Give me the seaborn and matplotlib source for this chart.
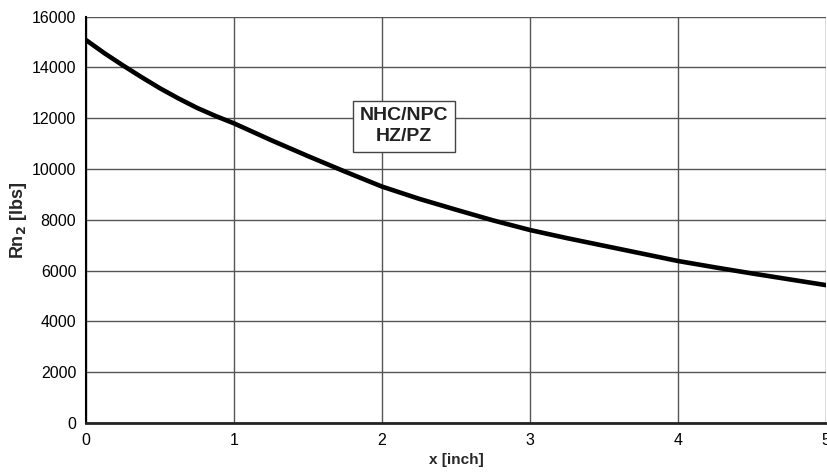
import numpy as np
import pandas as pd
import matplotlib
matplotlib.use("Agg")
import matplotlib.pyplot as plt
import seaborn as sns

# values
x_inch = [0, 0.125, 0.25, 0.375, 0.5, 0.625, 0.75, 0.875, 1.0, 1.25, 1.5, 1.75, 2.0,
          2.25, 2.5, 2.75, 3.0, 3.25, 3.5, 3.75, 4.0, 4.25, 4.5, 4.75, 5.0]
rn2_lbs = [15080, 14560, 14080, 13620, 13180, 12780, 12410, 12090, 11800, 11140, 10510, 9900, 9310,
           8830, 8400, 7980, 7600, 7280, 6980, 6680, 6380, 6130, 5890, 5660, 5430]
x_ticks = [0, 1, 2, 3, 4, 5]
y_ticks = [0, 2000, 4000, 6000, 8000, 10000, 12000, 14000, 16000]
label_text = "NHC/NPC\nHZ/PZ"

sns.set_style("white")
plt.rcParams['font.family'] = ['Liberation Sans', 'DejaVu Sans']

df = pd.DataFrame({"x": x_inch, "rn2": rn2_lbs})

fig = plt.figure(figsize=(8.28, 4.76), dpi=100)
ax = fig.add_axes([0.1039, 0.1113, 0.8937, 0.8536])

sns.lineplot(data=df, x="x", y="rn2", color="black", linewidth=3.3, ax=ax, zorder=3)
ax.lines[0].set_solid_joinstyle("round")

ax.set_xlim(0, 5)
ax.set_ylim(0, 16000)
ax.set_xticks(x_ticks)
ax.set_yticks(y_ticks)
ax.grid(True, color="#555555", linewidth=1)
ax.set_axisbelow(True)

for side in ["top", "right"]:
    ax.spines[side].set_visible(False)
ax.spines["left"].set_color("black")
ax.spines["left"].set_linewidth(1.5)
ax.spines["bottom"].set_color("#222222")
ax.spines["bottom"].set_linewidth(2)

ax.tick_params(axis="both", direction="out", length=4, width=1, color="black",
               labelsize=11.5, labelcolor="black", pad=3)

ax.set_xlabel("x [inch]", fontsize=11, fontweight="bold", labelpad=4)
ax.set_ylabel("Rn$_\\mathbf{2}$ [lbs]", fontsize=13, fontweight="bold", labelpad=2)

ax.text(2.15, 11680, label_text, ha="center", va="center", fontsize=14,
        fontweight="bold", color="#222222", linespacing=1.3, zorder=4,
        bbox=dict(boxstyle="square,pad=0.35", facecolor="white", edgecolor="#444444", linewidth=1))

plt.savefig("out.png", dpi=100)
